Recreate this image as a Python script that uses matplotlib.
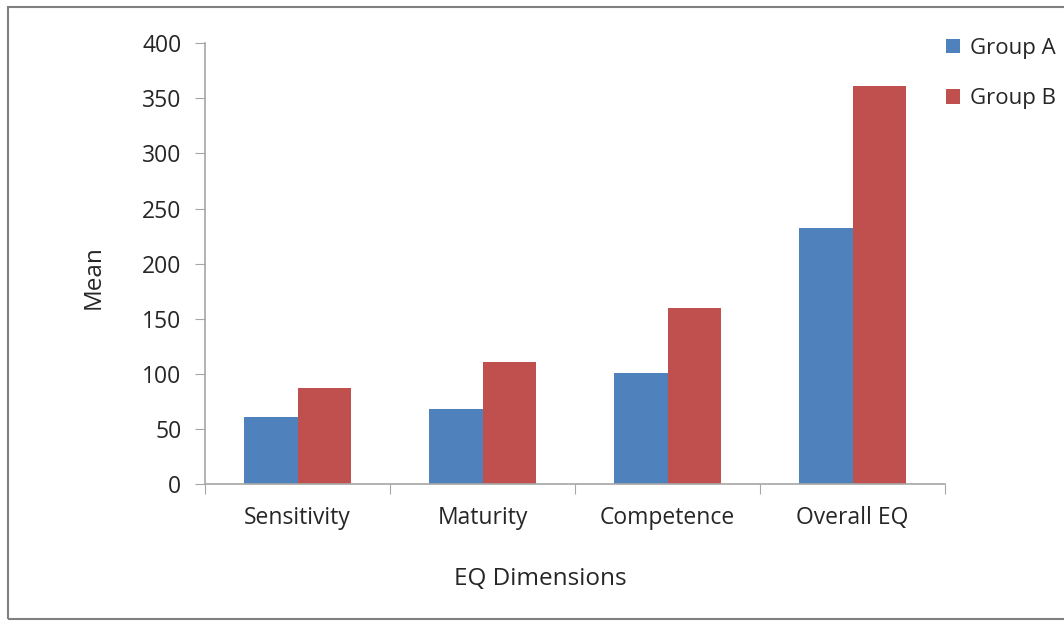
import numpy as np
import matplotlib.pyplot as plt
from matplotlib.patches import Rectangle

# mean EQ scores per dimension
dimensions = ["Sensitivity", "Maturity", "Competence", "Overall EQ"]
group_a = [61, 68, 101, 232]
group_b = [87, 111, 160, 361]

blue = "#4F81BD"
red = "#C0504D"
grey = "#A6A6A6"
text_col = "#262626"

plt.rcParams["font.family"] = ["Open Sans", "DejaVu Sans"]
plt.rcParams["text.color"] = text_col
plt.rcParams["axes.labelcolor"] = text_col
plt.rcParams["xtick.labelcolor"] = text_col
plt.rcParams["ytick.labelcolor"] = text_col

fig = plt.figure(figsize=(10.64, 6.21), dpi=100)
ax = fig.add_axes([0.1927, 0.2206, 0.6955, 0.7097])

x = np.arange(len(dimensions))
w = 0.287
ax.bar(x - w / 2, group_a, w, color=blue, label="Group A")
ax.bar(x + w / 2, group_b, w, color=red, label="Group B")

ax.set_xlim(-0.5, len(dimensions) - 0.5)
ax.set_ylim(0, 400)
ax.set_yticks(range(0, 401, 50))

# category ticks sit between the groups
ax.set_xticks(np.arange(-0.5, len(dimensions), 1.0))
ax.set_xticklabels([])
ax.set_xticks(x, minor=True)
ax.set_xticklabels(dimensions, minor=True)
ax.tick_params(axis="x", which="minor", length=0, pad=16, labelsize=16.5)
ax.tick_params(axis="x", which="major", length=7, color=grey, direction="out")
ax.tick_params(axis="y", length=7, color=grey, labelsize=16.5, pad=10)

for side in ["top", "right"]:
    ax.spines[side].set_visible(False)
for side in ["left", "bottom"]:
    ax.spines[side].set_color(grey)
    ax.spines[side].set_linewidth(1.2)

ax.set_ylabel("Mean", fontsize=17.5, va="center")
ax.yaxis.set_label_coords(-0.15, 0.47)
ax.set_xlabel("EQ Dimensions", fontsize=17.5, va="center")
ax.xaxis.set_label_coords(0.453, -0.2156)

ax.legend(loc="upper left", bbox_to_anchor=(0.889, 0.939),
          bbox_transform=fig.transFigure, frameon=False, fontsize=16,
          handlelength=0.63, handleheight=0.63, handletextpad=0.45,
          labelspacing=1.33, borderaxespad=0, borderpad=0)

# outer frame
fig.patches.append(Rectangle((8 / 1064, 2 / 621), 1.1, 1 - 9 / 621,
                             transform=fig.transFigure, fill=False,
                             edgecolor="#808080", linewidth=1.5))

fig.savefig("out.png", dpi=100)
